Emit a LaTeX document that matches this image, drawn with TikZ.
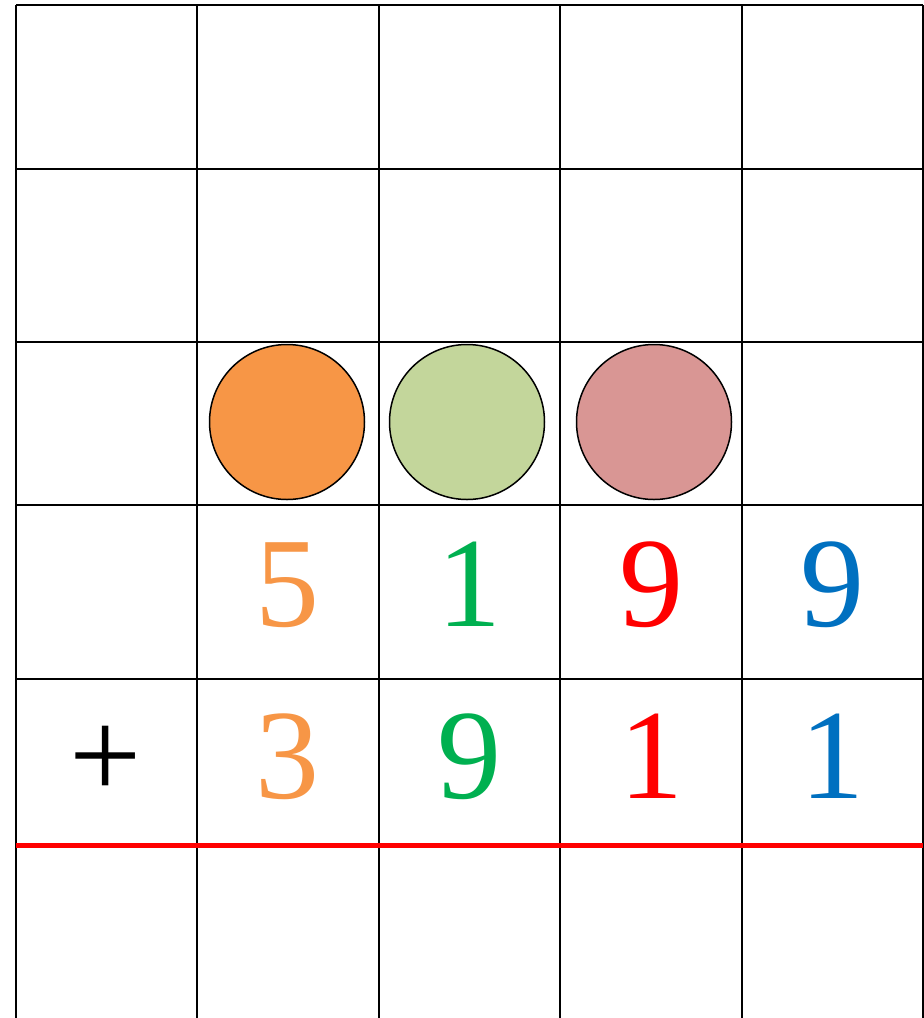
\documentclass[tikz,border=0pt]{standalone}
\usepackage{fontspec}
\setmainfont{Liberation Serif}
\definecolor{corange}{HTML}{F79646}
\definecolor{cgreen}{HTML}{00B050}
\definecolor{cred}{HTML}{FF0000}
\definecolor{cblue}{HTML}{0070C0}
\definecolor{forange}{HTML}{F79646}
\definecolor{fgreen}{HTML}{C3D69B}
\definecolor{fpink}{HTML}{D99694}
\tikzset{
  gridline/.style={line width=2pt, black},
  sumline/.style={line width=5pt, cred},
  ball/.style={circle, draw=black, line width=1.5pt, minimum size=155pt, inner sep=0pt},
  digit/.style={anchor=base, inner sep=0pt, font=\fontsize{128}{128}\selectfont},
}
\begin{document}
\begin{tikzpicture}[x=1pt,y=-1pt]
\useasboundingbox (0,0) rectangle (924,1018);
% grid
\foreach \x in {16,197,379,560,742,923}
  \draw[gridline] (\x,5) -- (\x,1018);
\foreach \y in {5,169,342,505,679}
  \draw[gridline] (16,\y) -- (923,\y);
\draw[sumline] (16,845) -- (923,845);
% circles
\node[ball, fill=forange] (c1) at (287,422) {};
\node[ball, fill=fgreen] (c2) at (467,422) {};
\node[ball, fill=fpink] (c3) at (654,422) {};
% first number
\node[digit, text=corange] (a1) at (287,626) {5};
\node[digit, text=cgreen] (a2) at (469,626) {1};
\node[digit, text=cred] (a3) at (651,626) {9};
\node[digit, text=cblue] (a4) at (832,626) {9};
% second number
\node[digit] (plus) at (106,798) {+};
\node[digit, text=corange] (b1) at (287,798) {3};
\node[digit, text=cgreen] (b2) at (469,798) {9};
\node[digit, text=cred] (b3) at (651,798) {1};
\node[digit, text=cblue] (b4) at (832,798) {1};
\end{tikzpicture}
\end{document}
